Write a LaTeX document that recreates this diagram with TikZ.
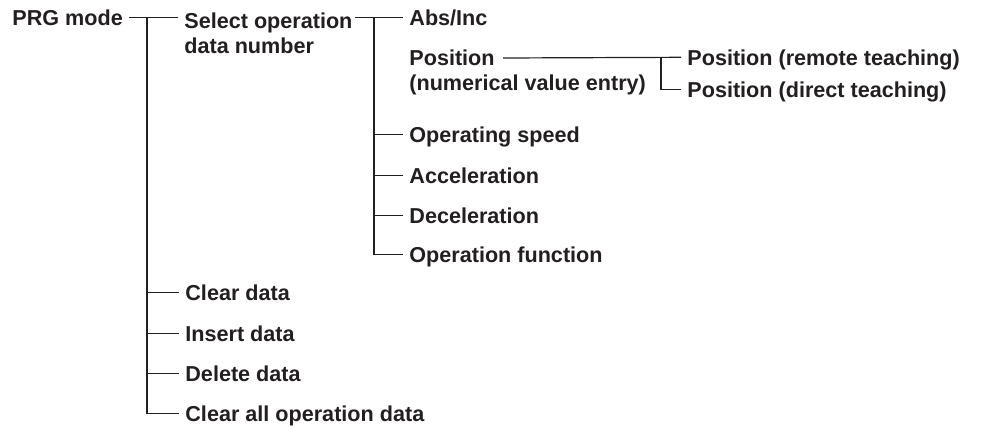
\documentclass[tikz,border=0pt]{standalone}
\usepackage{fontspec}
\setmainfont{Liberation Sans}
\usepackage{tikz}
\usetikzlibrary{calc,positioning}
\definecolor{ink}{HTML}{231F20}
\tikzset{
  item/.style  = {font=\fontsize{10.8}{12.5}\selectfont\bfseries, text=ink, inner xsep=3pt,
                  inner ysep=0pt, text height=7.7pt, text depth=0pt, anchor=base west},
  multi/.style = {font=\fontsize{10.8}{12.5}\selectfont\bfseries, text=ink, inner xsep=3pt,
                  inner ysep=0pt, align=left, anchor=base west},
  wire/.style  = {draw=ink, line width=0.6pt},
}
\begin{document}
\begin{tikzpicture}[x=0.5pt,y=-0.5pt]
  \useasboundingbox (0,0) rectangle (988,429);
  % level 0 and 1
  \node[item]  (prg)    at (6,25)    {PRG mode};
  \node[multi] (sel)    at (178,53)  {Select operation\\data number};
  \node[item]  (clr)    at (179,300) {Clear data};
  \node[item]  (ins)    at (179,341) {Insert data};
  \node[item]  (del)    at (179,381) {Delete data};
  \node[item]  (clrall) at (179,421) {Clear all operation data};
  % level 2
  \node[item]  (abs)    at (403,25)  {Abs/Inc};
  \node[multi] (pos)    at (403,90)  {Position\\(numerical value entry)};
  \node[item]  (opspd)  at (403,142) {Operating speed};
  \node[item]  (acc)    at (403,183) {Acceleration};
  \node[item]  (dec)    at (403,223) {Deceleration};
  \node[item]  (opfn)   at (403,262) {Operation function};
  % level 3
  \node[item]  (remote) at (681,65)  {Position (remote teaching)};
  \node[item]  (direct) at (681,97)  {Position (direct teaching)};

  \coordinate (j1) at (147,18);
  \coordinate (j2) at (374,18);
  \coordinate (posend) at (503,58);
  \coordinate (j3) at (661,58);

  \draw[wire] (prg.east) -- (sel.west |- prg.east);
  \draw[wire] (j1) |- (clrall.west);
  \foreach \n in {clr,ins,del}
    \draw[wire] (j1 |- \n.west) -- (\n.west);

  \draw[wire] ([xshift=-2pt]sel.north east |- abs.west) -- (abs.west);
  \draw[wire] (j2) |- (opfn.west);
  \foreach \n in {opspd,acc,dec}
    \draw[wire] (j2 |- \n.west) -- (\n.west);

  \draw[wire] (posend) -- (remote.west);
  \draw[wire] (j3) |- (direct.west);
\end{tikzpicture}
\end{document}
